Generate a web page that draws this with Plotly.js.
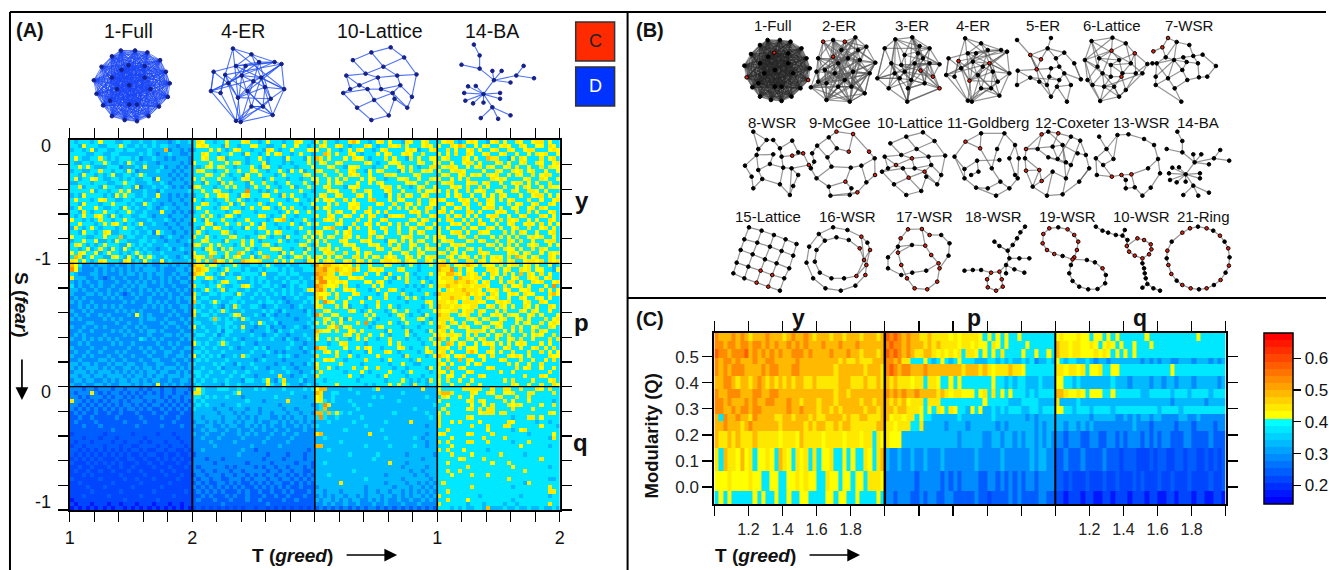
<!DOCTYPE html>
<html><head><meta charset="utf-8">
<script src="https://cdn.plot.ly/plotly-3.0.1.min.js"></script>
<style>html,body{margin:0;padding:0;background:#fff;overflow:hidden}#g{width:1329px;height:570px}</style>
</head><body><div id="g"></div>
<script>
/* ---------- value key: one character per cell ---------- */
const levelChars = '0123456789ab';
const levelValues = [0.17,0.21,0.25,0.29,0.33,0.38,0.42,0.45,0.485,0.525,0.58,0.64];

/* Panel A: 3 bands (y,p,q) by 4 networks, 30x30 cells each, top row first */
const bandY = [
'54555 45655 54455 44544 54443 45445 57655 45565 55675 54565 55455 76554 65755 45578 65545 67565 54765 56755 56775 45676 55467 56557 65567 75655',
'55465 55445 55654 45454 54554 43444 56765 55475 54556 65544 55655 65545 57655 67545 55765 45576 75655 56765 65576 87556 56755 67655 76556 65765',
'45545 64554 45545 54445 44483 44343 45556 56545 67554 55476 54556 55567 65565 54565 76554 56755 55676 45567 55756 55675 65567 55765 56775 55676',
'55554 45544 55444 44545 43445 44334 55765 54556 55465 54565 67554 56554 55875 65576 54555 65675 56765 57555 65657 55765 56755 67556 55657 67556',
'56544 55754 54555 45344 54434 34443 55675 56745 55545 56545 55465 55465 87565 55657 66545 55756 55475 65566 56755 57656 55877 55465 76555 75675',
'54455 45565 44546 54454 43444 44343 65556 55565 76545 55645 55454 55565 56755 67555 55765 45566 75555 67556 75565 56775 65556 75655 67557 65567',
'55656 54445 55344 45464 44534 43434 54576 56755 45556 54765 54555 45556 55567 55466 75554 55655 67565 45577 56776 55656 75765 56757 55655 75766',
'45544 55755 45546 53444 45444 34344 57655 45565 56557 65545 56546 56455 76555 75567 55465 67555 46575 56765 65567 76555 56557 65576 75675 56556',
'55465 54545 64455 45654 44443 43434 55567 55754 55465 56555 45655 55765 55755 56576 75565 55776 55556 75555 56755 67567 65767 55657 65575 67755',
'56455 67544 55454 54455 36444 34344 65755 56555 45675 55456 55545 54556 65565 65755 56567 55455 66755 65576 75565 65755 55576 76555 56755 76556',
'44555 45554 45565 54445 44543 44434 55465 54756 55546 55755 45565 55654 75565 67555 65565 76555 55676 55755 56775 55677 56755 65567 75656 55755',
'55745 55465 54455 46344 54454 34343 76555 45565 65545 65565 54556 45565 55675 55466 75555 56775 65545 67556 55567 65755 75655 57556 57655 65766',
'55555 64554 55756 44454 43544 44445 55655 67554 55595 54545 65555 56554 55567 65557 55765 55675 56555 75667 65756 55756 67556 65576 55776 56555',
'45465 55545 46565 54454 46443 43434 45565 56765 54675 55665 54756 55455 56755 67555 76565 55465 75675 56755 55656 75565 56565 76555 65567 75656',
'56555 45675 54455 45544 54443 44344 65455 45575 56545 45556 55545 65545 65676 55756 55578 55565 66555 75576 76555 67657 55765 65675 55755 65567',
'55465 55455 65554 54465 44344 34434 55675 54556 45655 57545 56555 54556 55565 75566 75555 67557 55765 65566 55675 56755 75665 55756 75567 55765',
'45655 56544 55465 45445 43454 43444 56555 45765 55456 55665 45657 55454 75675 55567 65575 55565 75656 55775 56556 75655 56775 65566 55675 76555',
'55475 45565 54556 54454 44644 34343 45565 55545 67555 45555 54565 65565 55565 76556 55765 65755 55567 65755 67565 55775 65556 76557 55756 55675',
'54565 57654 65455 44554 34443 44434 55756 54566 54555 56754 55655 45555 65576 55675 56567 55476 67555 75567 55756 75656 55677 55655 67555 76565',
'65545 45755 45565 54445 44454 34344 65465 55755 45565 55545 67854 55654 55767 56555 75565 56755 55576 56755 65775 56575 65565 75767 55656 55765',
'55655 54565 76545 45644 54434 43443 55567 45565 57556 54655 45556 54565 65555 76557 55675 65565 75655 67556 55567 65755 76556 55675 56765 75656',
'47545 65455 54565 54454 44443 44344 54655 67554 55465 56755 54545 56554 55678 55465 75565 56755 65567 55765 75655 57566 55765 65567 55755 67565',
'55465 54576 44555 45445 36544 34434 56545 55675 45555 45565 67555 45565 76555 65675 55567 55655 75565 67555 65567 75655 76655 57565 76556 55675',
'65554 45565 55845 54454 44345 44344 75565 45557 65545 57654 55465 55656 56567 55765 65575 76555 56775 55656 76555 67557 55565 75657 55676 75565',
'45565 56445 46554 44554 54434 43445 55675 55465 55756 54555 56545 45565 65755 57655 56765 55466 57565 76556 56775 55675 67557 55765 75565 56775',
'57654 54565 55446 54545 44454 44434 76556 56555 45656 55765 45555 56754 75565 55676 55567 65575 65567 55755 65567 76555 55675 65756 55767 55656',
'55456 45754 65465 45454 43445 34544 55476 54757 55565 45556 67554 55465 56765 65556 75555 67556 75565 65677 55756 55765 75556 57665 65575 76555',
'65765 56456 55454 56545 44544 44434 65556 75565 58654 57555 54656 55655 55677 55755 65675 55565 56755 76555 67576 56555 76755 55676 56755 65767',
'58745 65544 76546 54656 54454 43454 76758 55465 76556 45785 56545 67565 76565 67557 75656 75767 55675 65677 55765 76756 57567 65758 76567 55765',
'76565 45765 55476 45465 44645 44445 56575 96756 55876 67555 75656 55476 65767 55675 67565 56776 75766 55765 67567 55775 76566 75675 56776 75767'];
const bandP = [
'86533 43443 34334 34434 33443 43443 87756 65455 65445 54565 44454 45554 97887 76765 75565 55675 54565 45565 88756 67876 57665 75677 56756 55645',
'96433 34343 43434 34344 43433 34434 78765 54565 55454 45455 54545 44555 88977 87678 65576 76555 76555 45555 87795 75665 55776 56755 76756 65546',
'54333 44343 33434 43434 34433 43443 87655 45645 44555 54644 45545 54444 98877 56775 55755 65475 55654 55565 76887 65767 56576 57565 85765 75655',
'74443 34323 43343 33434 33434 34334 65567 54455 56545 45544 54454 45445 89777 75566 76555 55654 65755 45455 67775 87767 75565 75567 55767 56755',
'43434 33433 34334 34343 43434 33443 55445 45765 54445 45454 44545 54544 79967 67655 55665 76545 55755 56545 66778 77876 56755 65775 65576 75567',
'53433 43433 43343 43443 33433 43334 75545 56544 55765 44554 54345 45544 98766 75755 45556 56555 55454 54565 77877 67767 77655 57566 75655 56595',
'44343 34334 33434 33434 34343 34343 54565 45745 54454 45445 44545 44576 89756 55676 55545 65576 54555 45555 65767 78777 65767 56755 66755 75656',
'43334 43434 34323 43433 43434 33433 75445 54555 46544 54544 54545 45444 76675 65556 75555 45655 57545 55754 87777 77867 67576 55676 57665 55786',
'34343 33343 43433 34334 33334 34344 64554 44544 55445 44454 44344 54455 78655 75565 55465 55755 45756 54555 67787 76757 75767 55655 76557 65655',
'43433 43333 33343 43334 34343 34334 85445 65445 54544 45455 45434 44545 65976 55655 56555 75555 55455 55765 77676 57777 66556 76755 56755 76555',
'33434 34343 43433 33343 43434 33443 54544 54354 75445 54344 54443 45444 67555 75645 55455 65565 45555 54565 87767 76677 55675 76565 57656 55765',
'43343 43333 34343 43433 33433 43343 65445 45754 44544 44545 43544 44354 55765 55576 54565 55456 55655 45556 76677 56775 76556 57555 76576 55655',
'34334 33434 33334 36434 33334 34333 74554 54445 67444 54354 34434 44454 97556 65555 55756 55545 67545 54655 87755 76755 75567 65766 55675 65556',
'43433 33343 43433 33434 43343 33434 54445 85454 54754 44445 44444 34445 55765 56475 55565 45555 56555 76545 77765 55767 56755 67556 75655 57567',
'33334 43333 34334 33433 33434 43343 55444 54455 44445 46544 53444 44454 65657 56555 75954 55565 45655 54565 67576 57556 75566 75556 57655 75676',
'43343 34343 33343 34343 33343 34334 64544 45454 54744 34453 44344 54345 55576 85675 55545 76555 54555 45555 87655 67655 56757 65575 65567 55765',
'33433 43333 43434 33434 43433 33433 54454 45355 44543 44454 35445 44444 87665 75567 56555 55465 55745 55465 67565 55677 76565 56565 75575 76555',
'34343 33343 33343 43334 33344 34344 45544 53454 44445 44344 54434 44544 75555 55765 75565 56545 55654 55556 76776 75657 55656 75755 56567 65575',
'43343 43434 34333 33543 43433 33434 54445 44544 54344 45445 44354 34454 65575 65545 65755 45575 55455 45565 87566 55765 67556 55675 75565 55757',
'33434 33333 43433 43333 34334 34333 65454 45754 44544 34444 44445 44344 55545 56755 55455 55565 75555 54556 65875 67556 56765 65656 76555 65655',
'43333 43343 33334 33434 33433 43344 44544 54445 43444 54534 44454 43544 97755 55655 65765 54555 67545 55655 77655 75666 55575 56755 65567 56575',
'34334 33433 34343 33343 43344 33433 55454 44544 44445 44454 34344 44345 55765 65545 55465 55765 45555 45675 67565 55786 55765 65575 55755 75656',
'43343 43334 33433 43334 33343 34434 64545 45344 54754 44344 45454 34444 75555 75565 45555 65555 54755 55456 87656 67555 66575 55767 65655 55766',
'33433 33443 43343 33433 44333 43343 45454 44454 44444 34544 44344 44445 55676 55455 55755 54565 55545 65555 65755 85765 56555 67555 75565 56575',
'44344 34334 34434 43343 34433 34334 54444 54544 35445 44444 34443 44354 65555 57555 54555 55545 56554 45555 76565 55656 75555 55756 55655 75555',
'43434 44343 43344 34344 34344 43434 44544 45344 44344 54434 44544 34444 75565 45557 55655 75554 55455 55465 65855 76555 55675 55557 56755 65565',
'34443 43444 34343 43434 43443 34343 55445 44544 54454 44445 44454 43445 57555 55455 56545 55565 54565 55545 66575 55675 55555 65565 55555 55755',
'44344 34434 44434 34434 34434 44344 45454 44445 44544 34444 47443 44544 75555 55565 54555 45655 55455 54555 75665 56555 76555 55555 56555 76555',
'34434 43343 43443 44343 44334 33443 54544 54454 44355 44564 35744 45344 55455 55555 45555 55455 56545 45475 65755 65565 55555 56575 55565 55675',
'43343 34434 33444 34344 36343 43433 45444 44354 45444 44475 44654 43454 45555 65555 55454 55565 65547 55455 75565 55755 65555 55576 55655 75576'];
const bandQ = [
'33323 32333 23323 33232 33233 23332 56544 45554 45444 54544 44544 44545 68844 44454 44445 74444 44444 47444 65555 57777 75575 57755 75557 65755',
'32333 73232 33232 32323 23233 23323 77544 44444 56444 44444 44445 44444 87445 54444 54444 44444 45444 44444 78875 55576 55765 56675 55775 55575',
'33232 33323 23323 23233 33232 33233 55454 54454 44344 44444 54444 44344 67445 44444 44445 45444 44444 44544 57655 75565 55557 75557 55755 55555',
'73323 23232 33232 33323 23323 23232 54544 44444 44454 44344 44474 44444 67545 44454 44444 44444 54444 44444 65555 55675 76555 57565 55655 55545',
'33232 32323 23233 23232 33232 32323 45454 44344 45444 44444 43444 44443 45974 44445 44454 44444 44444 44445 55655 55565 56575 55767 65555 65575',
'32323 23232 32323 32323 22323 23232 54444 34443 44434 43444 44344 34444 45844 44444 54444 44444 44445 44444 57555 55675 75775 55575 55565 55555',
'23232 23223 22322 23222 32232 22322 44444 43444 34344 43443 44434 43443 88585 75454 44444 44445 44444 44544 65755 55555 67775 77555 55555 55765',
'22322 32222 23222 22322 22322 23222 44344 44344 43434 34443 34343 44344 59544 54444 45444 44444 44444 44454 75555 55765 55555 55545 55775 65555',
'23222 23222 22232 22232 22222 32222 34434 34344 34344 34334 43434 34343 44454 44445 44444 44544 44474 44444 75565 75555 65555 55765 55554 55455',
'22232 22322 22222 23222 22322 22322 43344 33434 43343 43434 33433 43434 54444 44444 44544 44444 44444 44344 75555 55575 55755 57755 55555 65554',
'22222 22222 32222 22222 22222 22222 33434 43343 34334 33433 43343 33433 44444 44544 44444 45444 44444 44444 55755 55555 55655 55545 67555 55555',
'12222 22212 22222 12222 21222 12222 43343 33433 34343 43334 33433 43333 78444 44444 44474 44444 44444 44344 67555 55675 55575 55555 55455 55565',
'22212 22122 21222 22212 22222 21222 33433 34333 33433 33343 33334 33333 44544 44444 44444 44544 44445 43444 55565 55555 57555 57555 55555 55475',
'21222 12222 12212 22121 22212 22122 33334 33333 43333 33433 33343 33333 44444 45444 44444 44444 44444 44344 75755 55775 55755 55545 55755 55555',
'12212 22212 22122 11222 21221 22212 33333 43333 33334 33333 34333 33333 88444 44444 44544 44454 44445 44344 55565 55555 55555 55555 65555 55455',
'22121 21212 12121 22121 12212 21121 33433 33333 33433 23333 33333 33323 44454 44444 44444 44444 44444 44444 75755 56555 55455 55555 55555 55555',
'21212 12121 21212 11212 21121 12112 23333 33333 34333 33323 33323 33233 44444 44454 44444 54444 44344 44443 55575 55565 55555 75555 54555 55555',
'12121 21211 12112 21121 12121 21211 33323 33233 33333 33233 33233 33233 44444 44444 44445 44444 44444 43444 55555 67555 57555 55555 55555 75555',
'21112 12121 21211 12112 11211 12112 33333 23333 33323 33332 33333 23332 44544 44444 44444 44474 44344 44444 55655 55555 55565 55755 55555 55555',
'11211 21112 11211 21111 21112 11121 32333 33323 23333 23233 23323 33232 44444 44444 44444 44444 43444 44344 55555 55755 55555 55565 55555 55455',
'12112 11211 21112 11211 11211 21111 33233 23332 33233 33323 32332 33223 44444 44445 44444 44444 44434 43444 55755 75555 55555 55555 57555 55555',
'11121 21111 11211 11121 11121 11211 23323 33233 23323 23233 23323 23232 44454 44444 44444 44344 44443 44344 55565 55575 55755 55555 55555 55555',
'21111 11211 11121 12111 21111 12111 32332 33223 33232 33323 32332 32323 44444 44444 44544 44444 43444 44434 55555 55555 55555 55755 55555 55445',
'11211 11111 21111 11211 11112 11111 23232 23323 23223 23232 33223 23232 44444 47444 44444 44344 44344 34343 57555 55555 55555 55555 54755 55555',
'11112 11121 11111 21111 11211 11111 32323 23232 32322 32323 23232 23222 34444 44444 44344 44443 44434 43434 55555 55575 55555 55545 55555 55755',
'11111 21111 11211 11111 21111 11121 23232 32322 23232 23223 22323 22232 44344 43444 44344 34434 43434 34343 55755 55555 55555 55555 55555 55775',
'11121 11112 11111 11211 11111 21111 22323 22232 32232 22322 32232 22322 34343 44344 34344 43443 43434 43434 75555 55555 45555 55555 45555 55455',
'01111 11111 11121 11111 12111 11111 23222 32223 22232 23222 22322 32222 43443 43434 43343 43433 43343 34343 55755 55655 55555 55545 55555 55555',
'10111 01110 11011 10111 01110 11011 22222 22322 22222 22232 22222 22222 33434 33433 43334 33433 34333 43333 75555 55455 54555 54554 55555 55755',
'01010 10101 01101 01010 10101 01010 12121 21212 12122 12212 12121 21212 23232 32323 23233 23232 32323 23232 55545 45445 54844 45445 44544 54454'];

/* Panel C: Q-band edges and 15 bands by 3 sections of 40 stripes, bottom band first */
const qEdges = [-0.065,-0.016,0.061,0.150,0.214,0.254,0.281,0.312,0.343,0.375,0.427,0.474,0.497,0.528,0.559,0.591];
const bandsC = [
'56565 55556 56556 55655 66555 56656 65565 55565 33233 32232 33223 32222 23221 22223 23222 23322 11011 10110 01101 11011 10110 01101 11011 00110',
'66676 66676 65566 55667 67665 57665 66566 57776 33333 33233 33323 23233 33223 32323 23233 23333 22121 11211 12112 11121 21112 11211 12111 12112',
'75877 68675 66765 87657 67575 66755 65655 76578 43343 34334 33343 33333 34333 33433 33334 34433 22322 23222 23222 12221 11212 21122 12211 21212',
'87787 87778 77777 67776 87777 67777 67776 77576 76664 44444 44444 44344 44433 44344 34344 34343 33233 32233 22332 32333 23232 33222 33222 23222',
'88988 87898 88888 78888 87878 87787 88777 77788 77677 75574 44443 44443 44444 43434 44444 34344 44344 34343 33333 33343 33233 33323 33233 33233',
'85988 98879 88887 78878 88787 78888 78778 87778 86776 77565 54444 44544 44444 54444 44434 34444 44444 44434 44443 34343 44344 33334 43343 33333',
'99889 89989 98888 88988 98887 88787 88888 78878 88788 77765 65765 76554 65644 54545 55445 54555 66554 55545 55545 55555 55554 55554 55555 55555',
'99898 88989 88998 88988 78887 88878 88887 88788 87878 67775 77755 55555 55565 55554 44555 54444 74444 54444 44444 44444 44444 44344 44444 34444',
'98899 98889 98899 88888 88888 88878 87888 88888 98989 88988 88787 67766 65675 75656 55545 45555 88766 76566 65565 55555 44555 55455 54555 54555',
'88998 78878 98787 87878 87787 77778 88777 87787 87877 76775 77655 65655 55555 65545 45544 45444 66554 54444 44454 44344 44344 34434 44344 44434',
'98989 99888 89899 88899 88888 88878 88888 78887 9a989 98889 88888 88878 88787 67778 77655 55555 77677 67566 75566 55555 55555 55655 55555 55555',
'98998 98889 88998 88889 88888 88887 87787 77888 99897 75556 54565 45655 54445 54545 44545 34454 65455 44543 44344 44444 34343 44334 44344 43434',
'a9989 99a89 89898 98899 98988 88988 89887 88878 a9a98 98778 87676 76757 76565 65755 55655 65565 87767 76667 67656 56565 55555 55555 55555 55555',
'99899 89989 98989 88989 89888 98889 88898 88888 9a998 98887 87877 77677 67665 76565 55565 55555 87767 76676 56765 65565 55655 55555 55555 55555',
'98889 89878 88988 87898 89878 88788 78887 88878 a9a98 98877 87777 67677 77656 56565 56555 55555 67666 76656 65656 55555 56555 55555 55565 55555'];

/* ---------- network layouts: node x,y pairs, edge paths, red nodes ---------- */
const net1 = [18,107,25,142,38,72,42,172,65,45,65,200,98,210,130,213,160,200,187,175,210,150,215,115,205,85,190,55,157,35,125,30,88,30,108,68,65,100,78,130,110,120,150,100,165,130,130,170,90,80,150,70,60,160,110,170];
const red1 = 'bkr';
const net2 = [255,35,285,30,320,35,352,22,385,50,412,98,395,130,380,190,335,215,265,210,218,172,235,125,240,85,285,80,300,100,330,85,365,90,290,130,260,120,345,125,320,150,265,160,300,170,340,170,240,155,360,60,310,60];
const edge2 = 'abcdefghijklma nbAczd eqfgtxhiwjvkyl msrutgq pon svwxi jrlomya Ad zeo cpzqt fxwu rvy kiah bq dsjt hgxo ljw yun ce bm ifz qnl kwtA sxjp hrdv nxg yobr kqi lzu mhse jgA vfc oxk wpa yis atjdl nhbv eAw rgk opyt zsu dxb fmq ncv kfi ljh wqy ugb txe oiz';
const red2 = 'acn';
const net3 = [440,55,472,28,523,22,575,55,605,103,585,140,605,175,508,215,452,175,418,145,460,100,500,75,545,48,490,105,530,100,548,122,520,150,485,145,555,85,575,100,560,160,510,175,470,130,540,70,500,125];
const edge3 = 'abcdefghija kblcmd neoftg puvqrwk hvrjw ibn adl smxel ogq nyqu sfp yrk tud xcs wiyoh cxs pgh lny ahc jr bw kq tv ajkho dqmbe lvuxr wsc gyf ntj iqd mh kpc';
const red3 = 'fgp';
const net4 = [682,25,730,40,790,60,808,65,632,85,662,93,690,70,755,100,625,135,670,115,705,95,735,110,765,125,815,130,695,152,720,135,650,140,690,212,702,215,760,175,780,155,785,197,730,175,750,60,715,70];
const edge4 = 'abcdnvsrqiegbxcyk fjkhmu anmtrk dhlpo gkl eijolm qfo rwhd usl nutw pvwsa gc hn iky fd wt xg yj gn xuo ptv pd afq bmo ejx ihv ckw sj fp ir lx';
const red4 = 'fho';
const net5 = [838,30,878,75,910,88,897,118,940,24,930,55,980,68,955,85,1010,100,1030,148,840,122,838,165,878,143,905,155,928,165,940,115,965,110,980,130,965,150,940,200,988,215,958,170,1000,165,935,140];
const edge5 = 'ab klmk bdnm ef gij fc cbd cdpxon ob fb hqrsvto hf hg qp rwuv wv ji sx ms jr tn kd fg';
const red5 = 'bcd';
const net6 = [1062,33,1125,23,1122,62,1192,70,1165,40,1042,90,1085,85,1145,90,1230,102,1180,100,1050,150,1095,130,1120,105,1155,130,1195,130,1152,140,1215,130,1065,165,1100,170,1130,170,1088,213,1145,200,1165,180,1120,140,1080,110];
const edge6 = 'abedi qwvuk fa krs tv wo iq ag cb ce gc ch dj gylxmh kyf lr lstv xpnj no od oi fk gm fr ur us ut vs vw cf hd mn lt pw xs fl jq ej hn bf aj mj ay gh cl sq tp';
const red6 = 'cdp';
const net7 = [1292,24,1275,52,1248,64,1318,36,1356,45,1368,78,1396,74,1436,108,1382,100,1410,140,1385,142,1348,96,1310,90,1285,82,1258,100,1245,100,1255,140,1255,165,1292,145,1312,175,1335,120,1332,215,1338,82,1350,150];
const edge7 = 'adefghjkilmnop cba bn nd md qosrq st tvr txul us mu ow wf wl if xk mq sm';
const red7 = 'abc';
const net8 = [45,20,60,72,85,45,105,45,125,70,162,47,180,82,195,85,212,120,162,92,130,95,105,88,55,90,20,122,60,135,95,117,135,128,160,130,40,155,72,162,45,190,125,178,155,210,180,150,165,183];
const edge8 = 'abcdekq lmn nsutopq qrxy bmo jh fgh hi ir jk fe wvt vq wy wr lp ac';
const red8 = 'hij';
const net9 = [272,37,295,20,345,27,393,80,410,100,411,150,385,172,358,202,335,210,277,212,272,185,235,160,218,130,228,110,222,85,237,62,268,97,296,70,332,80,280,125,338,128,370,122,322,170,340,190];
const edge9 = 'abcdefghijklmnopa ars sc qr qp qt tu uv ve tl uw wx xi wk vg jh';
const red9 = 'bcdfhsw';
const net10 = [505,35,555,22,457,55,536,72,590,48,622,92,440,95,474,120,522,100,572,95,432,140,495,130,560,140,610,150,468,178,512,158,565,155,598,178,505,210,550,198,490,90,530,130,580,120,450,130];
const edge10 = 'cab gude xhijf klvwn opmr stqr befnr adjwm cuivmq ghlpt kos gxk';
const red10 = 'himp';
const net11 = [683,50,730,25,800,25,832,60,843,100,840,160,815,190,775,212,715,188,680,160,650,95,727,70,778,72,815,100,785,105,718,107,680,132,762,130,788,170,750,190,722,140,832,150,700,150];
const edge11 = 'abcdefghijka alrsg st ti opqk qj pu uw nv vf nd bl rm mc';
const red11 = 'al';
const net12 = [932,20,962,25,912,28,865,72,1000,35,1028,47,1045,90,1055,130,1025,170,975,208,928,212,885,185,865,137,862,100,905,135,912,168,945,140,985,160,1000,120,985,112,960,102,932,97,900,72,945,65,975,60,1020,85];
const edge12 = 'acdnmlkjihgfeba cw wv vu ut ts sr rq qp po on wdx xy yz zg bx ay yt vs xu eu fs qk pl lo mo rj ih ry';
const red12 = 'bcdmop';
const net13 = [1085,35,1140,30,1173,28,1220,42,1250,60,1262,102,1268,145,1240,188,1215,212,1165,190,1192,187,1182,148,1152,150,1123,155,1078,150,1075,100,1097,120,1128,102,1107,72,1232,130,1165,165];
const edge13 = 'asb bcdefghikj ju um lm mn no op pq qn qr rs sp rb lt tf lk';
const red13 = 'lmn';
const net14 = [1320,20,1335,48,1335,82,1288,72,1372,112,1368,88,1392,88,1430,100,1449,75,1476,107,1415,118,1345,148,1305,128,1325,127,1295,145,1298,165,1318,172,1345,170,1388,145,1388,160,1368,182,1338,210,1383,212,1415,203];
const edge14 = 'abce dc fe ge ehi hj ke el lm ln lo lp lq lr ls lt lu uv uw ux';
const net15 = [62,22,100,32,137,45,172,58,205,72,48,58,87,68,125,80,160,93,195,107,37,90,73,103,110,118,145,130,183,145,25,128,60,140,97,152,132,165,168,175,15,160,48,175,85,188,120,200,155,212];
const edge15 = 'abcde fghij klmno pqrst uvwxy afkpu bglqv chmrw dinsx ejoty';
const red15 = 'rswx';
const net16 = [272,42,315,22,358,30,400,50,418,68,426,90,415,135,412,165,382,197,338,212,292,205,255,175,235,128,243,80,290,62,325,52,362,60,395,85,408,120,385,168,348,175,310,175,275,158,260,125,265,90];
const edge16 = 'abcdefghijklmna opqrstuvwxyo ao ds sg tg fs';
const red16 = 'dfghrst';
const net17 = [518,55,540,28,582,27,605,45,640,45,665,70,662,107,635,145,628,185,598,208,560,205,537,175,520,135,510,98,510,80,480,112,480,145,520,165,553,158,595,152,632,130,610,105,592,77,552,75];
const edge17 = 'abcdefghijklmnoa opqrstu hu uvwc wxo nx';
const red17 = 'abcdhijklmnuvw';
const net18 = [892,20,878,37,868,55,855,75,840,92,845,115,800,65,815,78,875,115,905,115,835,135,860,148,890,158,835,160,815,155,790,158,760,150,735,150,710,152,778,178,780,202,805,212,825,200,822,178];
const edge18 = 'abcdefk gheh fi ij klm kn ko op pqrs ptuvwxo';
const red18 = 'optuvwx';
const net19 = [947,42,965,25,992,22,1020,28,1040,45,1052,65,1048,90,1040,112,945,70,958,90,980,102,1005,108,1035,118,1078,120,1102,127,1125,145,1135,165,1133,190,1110,207,1082,208,1055,200,1035,183,1025,160,1030,135];
const edge19 = 'abcdefgh aijklmnopqrstuvwxm hx hm';
const red19 = 'abdefghijkmp';
const net20 = [1105,20,1125,32,1142,38,1165,45,1185,47,1192,30,1200,60,1230,55,1250,60,1270,73,1272,88,1265,103,1245,115,1222,107,1205,95,1198,78,1245,130,1250,145,1252,160,1255,175,1260,192,1245,203,1278,205,1298,212];
const edge20 = 'abcdef egphijklmnopg mqrstuv uwx';
const red20 = 'hijklmnop';
const net21 = [1320,92,1333,65,1365,38,1388,25,1412,20,1438,25,1458,32,1478,47,1492,65,1503,85,1507,112,1505,137,1495,158,1480,180,1460,195,1438,205,1415,208,1390,205,1365,195,1348,182,1332,162,1323,135,1318,115];
const edge21 = 'abcdefghijklmnopqrstuvwa';
const red21 = 'acdfhjlnprsuv';

const rowB = ['1-Full','2-ER','3-ER','4-ER','5-ER','6-Lattice','7-WSR','8-WSR','9-McGee','10-Lattice','11-Goldberg','12-Coxeter','13-WSR','14-BA','15-Lattice','16-WSR','17-WSR','18-WSR','19-WSR','10-WSR','21-Ring'];
const labelXB = [775,841,914,975,1045,1115,1192,774,842,912,990,1074,1144,1201,770,849,927,996,1070,1144,1206];
const labelYB = [25,122,216];
const labelsA = ['1-Full','4-ER','10-Lattice','14-BA'];
const labelXA = [129,244,381,493];

/* ---------- helpers ---------- */
const L='abcdefghijklmnopqrstuvwxyzABCDEFGHIJKLMNOPQRSTUVWXYZ';
function allPairs(n){let s=[];for(let i=0;i<n;i++)for(let j=i+1;j<n;j++)s.push(L[i]+L[j]);return s.join(' ');}
function pts(a){let o=[];for(let i=0;i<a.length;i+=2)o.push([a[i],a[i+1]]);return o;}
function toCells(rows){return rows.map(r=>r.replace(/ /g,'').split('').map(c=>levelValues[levelChars.indexOf(c)]));}

const nets=[
 [net1,allPairs(net1.length/2),red1],[net2,edge2,red2],[net3,edge3,red3],[net4,edge4,red4],[net5,edge5,red5],[net6,edge6,red6],[net7,edge7,red7],
 [net8,edge8,red8],[net9,edge9,red9],[net10,edge10,red10],[net11,edge11,red11],[net12,edge12,red12],[net13,edge13,red13],[net14,edge14,''],
 [net15,edge15,red15],[net16,edge16,red16],[net17,edge17,red17],[net18,edge18,red18],[net19,edge19,red19],[net20,edge20,red20],[net21,edge21,red21]];
const origins=[[740,30],[740,125],[730,220]];

function drawNet(entry,map,lineColor,lineW,nodeColor,nodeSize,useRed){
 const P=pts(entry[0]).map(map);let ex=[],ey=[];
 entry[1].split(' ').forEach(path=>{for(let i=0;i+1<path.length;i++){const a=P[L.indexOf(path[i])],b=P[L.indexOf(path[i+1])];if(a&&b){ex.push(a[0],b[0],null);ey.push(a[1],b[1],null);}}});
 const cols=P.map((p,i)=>useRed&&entry[2].includes(L[i])?'#e0200a':nodeColor);
 return [{type:'scatter',mode:'lines',x:ex,y:ey,line:{color:lineColor,width:lineW},hoverinfo:'skip',showlegend:false,xaxis:'x',yaxis:'y'},
 {type:'scatter',mode:'markers',x:P.map(p=>p[0]),y:P.map(p=>p[1]),marker:{color:cols,size:nodeSize,line:{color:nodeColor,width:1}},hoverinfo:'skip',showlegend:false,xaxis:'x',yaxis:'y'}];
}

const traces=[];
const steps=24, cs=[];
for(let i=0;i<steps;i++){
 let c;
 if(i<12)c=`rgb(0,${Math.round(i/11*255)},255)`;else c=`rgb(255,${Math.round((23-i)/11*255)},0)`;
 cs.push([i/steps,c],[(i+1)/steps,c]);
}
const zmin=0.142,zmax=0.679;

traces.push({type:'heatmap',z:toCells(bandY.concat(bandP,bandQ)),x0:5/60,dx:5/30,y0:5/60,dy:5/30,colorscale:cs,zmin,zmax,showscale:false,xaxis:'x2',yaxis:'y2',hoverongaps:false});
traces.push({type:'heatmap',z:toCells(bandsC),x0:0.0625,dx:0.125,y:qEdges,colorscale:cs,zmin,zmax,xaxis:'x3',yaxis:'y3',
 colorbar:{thickness:29,thicknessmode:'pixels',len:171,lenmode:'pixels',x:1266.6/1329,xanchor:'left',y:1-504/570,yanchor:'bottom',xpad:0,ypad:0,outlinewidth:1.5,outlinecolor:'#000',
  tickmode:'array',tickvals:[0.2,0.3,0.4,0.5,0.6],ticktext:['0.2','0.3','0.4','0.5','0.6'],ticks:'outside',ticklen:8,tickwidth:1.2,tickcolor:'#000',tickfont:{family:'Liberation Sans',size:17,color:'#111'}}});

nets.forEach((e,i)=>{
 const o=origins[i<7?0:i<14?1:2];
 traces.push(...drawNet(e,p=>[o[0]+p[0]/3,o[1]+p[1]/3],i===0?'rgba(40,40,40,.45)':'rgba(90,90,90,.65)',1.2,'#000',3.6,true));
});
const aPlace=[[0,746,37,94,47,0],[3,948,37,211,47,0],[9,884,132,344,47,1],[13,1168,132,461,45,1]];
aPlace.forEach(a=>{
 const o=origins[a[5]];
 traces.push(...drawNet(nets[a[0]],p=>[a[3]+(o[0]+p[0]/3-a[1])*1.16,a[4]+(o[1]+p[1]/3-a[2])*1.16],a[0]===0?'rgba(25,70,245,.8)':'rgba(35,80,240,.8)',a[0]===0?0.8:1.1,'#15208a',3.6,false));
});

const F='Liberation Sans';
const ann=[];
function T(x,y,text,size,opts){ann.push(Object.assign({xref:'x',yref:'y',x,y,text,showarrow:false,font:{family:F,size,color:'#111'},xanchor:'center',yanchor:'middle'},opts||{}));}
function Arrow(x,y,ax,ay){ann.push({xref:'x',yref:'y',x,y,ax,ay,axref:'pixel',ayref:'pixel',text:'',showarrow:true,arrowhead:2,arrowsize:1.5,arrowwidth:1.7,arrowcolor:'#000'});}
T(30,30,'<b>(A)</b>',20);T(651,30,'<b>(B)</b>',20);T(651,319,'<b>(C)</b>',20);
labelsA.forEach((t,i)=>T(labelXA[i],31,t,19.5));
rowB.forEach((t,i)=>T(labelXB[i],labelYB[i<7?0:i<14?1:2],t,15));
T(583,200,'<b>y</b>',24);T(583,322,'<b>p</b>',24);T(582,442,'<b>q</b>',24);
T(46,146,'0',18);T(43,259,'-1',18);T(46,392,'0',18);T(43,502,'-1',18);
T(293,555,'<b>T (<i>greed</i>)</b>',19);Arrow(398,555,-52,0);
T(22,305,'<b>S (<i>fear</i>)</b>',19,{textangle:90});Arrow(22,400,0,-42);
T(800,318,'<b>y</b>',23);T(976,318,'<b>p</b>',23);T(1143,318,'<b>q</b>',23);
T(652,436,'<b>Modularity (Q)</b>',18.5,{textangle:-90});
T(757,555,'<b>T (<i>greed</i>)</b>',19);Arrow(862,555,-52,0);
T(596.5,41,'C',18,{font:{family:F,size:18,color:'#222'}});T(596.5,86,'D',18,{font:{family:F,size:18,color:'#fff'}});

function box(x0,y0,x1,y1,fill){return {type:'rect',xref:'x',yref:'y',x0,y0,x1,y1,fillcolor:fill,line:{color:'#333',width:1.5},layer:'below'};}
function seg(x0,y0,x1,y1,w){return {type:'line',xref:'x',yref:'y',x0,y0,x1,y1,line:{color:'#000',width:w},layer:'above'};}
function vA(v,w){return {type:'line',xref:'x2',yref:'y2',x0:v,x1:v,y0:0,y1:15,line:{color:'#000',width:w},layer:'above'};}
function hA(v,w){return {type:'line',xref:'x2',yref:'y2',x0:0,x1:20,y0:v,y1:v,line:{color:'#000',width:w},layer:'above'};}
const shapes=[seg(10,12,1329,12,2),seg(10,12,10,570,2),seg(629,12,629,570,2),seg(629,298,1329,298,2),
 box(577,22,616,61,'#ff2a00'),box(577,67,616,106,'#0033ff'),
 vA(5,2),vA(10,1.6),vA(15,1.6),hA(5,1.4),hA(10,1.4),
 {type:'line',xref:'x3',yref:'paper',x0:5,x1:5,y0:1-504/570,y1:1-333/570,line:{color:'#000',width:2.5},layer:'above'},
 {type:'line',xref:'x3',yref:'paper',x0:10,x1:10,y0:1-504/570,y1:1-333/570,line:{color:'#000',width:2},layer:'above'}];

const W=1329,H=570;
const axBase={showgrid:false,zeroline:false,showline:true,linecolor:'#000',linewidth:2,mirror:'allticks',ticks:'outside',ticklen:10,tickwidth:1.2,tickcolor:'#000'};
const tickA=[...Array(21).keys()];
const tickC=[...Array(16).keys()];
const layout={width:W,height:H,margin:{l:0,r:0,t:0,b:0},paper_bgcolor:'#fff',plot_bgcolor:'rgba(0,0,0,0)',showlegend:false,
 annotations:ann,shapes,
 xaxis:{domain:[0,1],range:[0,W],visible:false,fixedrange:true},
 yaxis:{domain:[0,1],range:[H,0],visible:false,fixedrange:true},
 xaxis2:{...axBase,anchor:'y2',domain:[70/W,561/W],range:[0,20],tickmode:'array',tickvals:tickA,ticktext:tickA.map(v=>v===0||v===15?'1':v===5||v===20?'2':''),tickfont:{family:F,size:18,color:'#111'}},
 yaxis2:{...axBase,anchor:'x2',domain:[1-510/H,1-140/H],range:[15,0],tickmode:'array',tickvals:[...Array(15).keys()].map(v=>v+1),showticklabels:false},
 xaxis3:{...axBase,anchor:'y3',domain:[716/W,1228.5/W],range:[0,15],tickmode:'array',tickvals:tickC,ticktext:tickC.map(v=>({1:'1.2',2:'1.4',3:'1.6',4:'1.8',11:'1.2',12:'1.4',13:'1.6',14:'1.8'}[v]||'')),tickfont:{family:F,size:16,color:'#222'}},
 yaxis3:{...axBase,anchor:'x3',domain:[1-504/H,1-333/H],range:[-0.065,0.591],tickmode:'array',tickvals:[0,0.1,0.2,0.3,0.4,0.5],ticktext:['0.0','0.1','0.2','0.3','0.4','0.5'],tickfont:{family:F,size:17,color:'#222'}}
};
Plotly.newPlot('g',traces,layout,{displayModeBar:false,staticPlot:true});
</script></body></html>
